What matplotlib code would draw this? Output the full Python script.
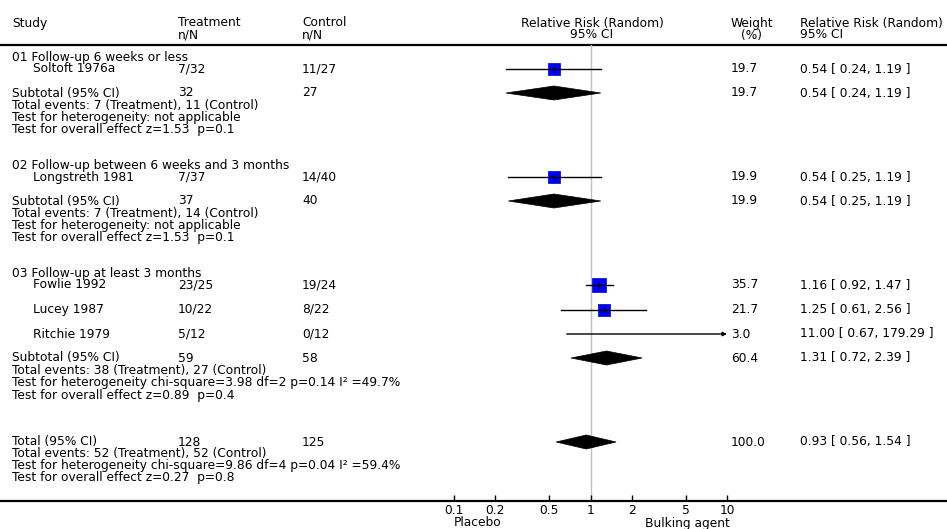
import matplotlib.pyplot as plt

# studies
studies = ["Soltoft 1976a", "Longstreth 1981", "Fowlie 1992", "Lucey 1987", "Ritchie 1979"]
study_group = [0, 1, 2, 2, 2]
treat = ["7/32", "7/37", "23/25", "10/22", "5/12"]
ctrl = ["11/27", "14/40", "19/24", "8/22", "0/12"]
rr = [0.54, 0.54, 1.16, 1.25, 11.00]
rr_lo = [0.24, 0.25, 0.92, 0.61, 0.67]
rr_hi = [1.19, 1.19, 1.47, 2.56, 179.29]
weight = [19.7, 19.9, 35.7, 21.7, 3.0]

# subgroups
groups = ["01 Follow-up 6 weeks or less",
          "02 Follow-up between 6 weeks and 3 months",
          "03 Follow-up at least 3 months"]
sub_n_t = [32, 37, 59]
sub_n_c = [27, 40, 58]
sub_ev_t = [7, 7, 38]
sub_ev_c = [11, 14, 27]
sub_het = ["Test for heterogeneity: not applicable",
           "Test for heterogeneity: not applicable",
           "Test for heterogeneity chi-square=3.98 df=2 p=0.14 I² =49.7%"]
sub_z = ["1.53", "1.53", "0.89"]
sub_p = ["0.1", "0.1", "0.4"]
sub_rr = [0.54, 0.54, 1.31]
sub_lo = [0.24, 0.25, 0.72]
sub_hi = [1.19, 1.19, 2.39]
sub_w = [19.7, 19.9, 60.4]

# overall
tot_n_t, tot_n_c = 128, 125
tot_ev_t, tot_ev_c = 52, 52
tot_het = "Test for heterogeneity chi-square=9.86 df=4 p=0.04 I² =59.4%"
tot_z, tot_p = "0.27", "0.8"
tot_rr, tot_lo, tot_hi, tot_w = 0.93, 0.56, 1.54, 100.0

ticks = [0.1, 0.2, 0.5, 1, 2, 5, 10]
tick_labels = ["0.1", "0.2", "0.5", "1", "2", "5", "10"]

W, H = 947, 529
FS = 8.8
XMAX = 10

fig = plt.figure(figsize=(W / 100, H / 100), dpi=100)
ax = fig.add_axes([0, 0, 1, 1])
ax.set_xlim(0, W)
ax.set_ylim(H, 0)
ax.axis('off')

# forest axes, log scale, y in pixel rows
x0, x1 = 454, 727
y_top, y_bot = 45, 501
fa = fig.add_axes([x0 / W, 1 - y_bot / H, (x1 - x0) / W, (y_bot - y_top) / H])
fa.set_xscale('log')
fa.set_xlim(0.1, XMAX)
fa.set_ylim(y_bot, y_top)
fa.patch.set_alpha(0)
for s in fa.spines.values():
    s.set_visible(False)
fa.set_yticks([])
fa.set_xticks(ticks)
fa.set_xticklabels(tick_labels)
fa.minorticks_off()
fa.tick_params(axis='x', direction='in', length=4, width=1, pad=2, labelsize=FS)
fa.axvline(1, color='#c0c0c0', lw=1, zorder=0)


def txt(x, y, s, **kw):
    ax.text(x, y, s, fontsize=FS, va='center', ha=kw.pop('ha', 'left'), **kw)


def diamond(y, est, lo, hi):
    fa.fill([lo, est, hi, est], [y, y - 7, y, y + 7], color='black', lw=0.5)


def rr_text(est, lo, hi):
    return f"{est:.2f} [ {lo:.2f}, {hi:.2f} ]"


# header
txt(12, 23, "Study")
txt(178, 23, "Treatment")
txt(178, 35, "n/N")
txt(302, 23, "Control")
txt(302, 35, "n/N")
txt(592, 23, "Relative Risk (Random)", ha='center')
txt(592, 35, "95% CI", ha='center')
txt(752, 23, "Weight", ha='center')
txt(752, 35, "(%)", ha='center')
txt(800, 23, "Relative Risk (Random)")
txt(800, 35, "95% CI")
ax.plot([0, W], [45, 45], color='black', lw=1.6)
ax.plot([0, W], [501, 501], color='black', lw=1.6)

y = 57
for g in range(len(groups)):
    txt(12, y, groups[g])
    y += 12
    idx = [i for i in range(len(studies)) if study_group[i] == g]
    for k, i in enumerate(idx):
        txt(33, y, studies[i])
        txt(178, y, treat[i])
        txt(302, y, ctrl[i])
        txt(731, y, f"{weight[i]:.1f}")
        txt(800, y, rr_text(rr[i], rr_lo[i], rr_hi[i]))
        side = 2.48 * weight[i] ** 0.5
        fa.scatter([rr[i]], [y], marker='s', s=(side * 0.72) ** 2,
                   color='#0000ff', edgecolors='#0000c8', linewidths=0.5, zorder=2)
        hi = min(rr_hi[i], XMAX)
        if rr_hi[i] > XMAX:
            fa.annotate('', xy=(hi, y), xytext=(rr_lo[i], y),
                        arrowprops=dict(arrowstyle='-|>', lw=1, color='black',
                                        mutation_scale=6, shrinkA=0, shrinkB=0),
                        annotation_clip=False, zorder=3)
        else:
            fa.plot([rr_lo[i], hi], [y, y], color='black', lw=1, zorder=3)
            fa.plot([rr[i], rr[i]], [y - 2.5, y + 2.5], color='black', lw=0.8, zorder=3)
        y += 24.5 if k < len(idx) - 1 else 24
    txt(12, y, "Subtotal (95% CI)")
    txt(178, y, str(sub_n_t[g]))
    txt(302, y, str(sub_n_c[g]))
    txt(731, y, f"{sub_w[g]:.1f}")
    txt(800, y, rr_text(sub_rr[g], sub_lo[g], sub_hi[g]))
    diamond(y, sub_rr[g], sub_lo[g], sub_hi[g])
    txt(12, y + 12.3, f"Total events: {sub_ev_t[g]} (Treatment), {sub_ev_c[g]} (Control)")
    txt(12, y + 24.6, sub_het[g])
    txt(12, y + 37, f"Test for overall effect z={sub_z[g]}  p={sub_p[g]}")
    y += 37 + 35

y = y - 35 + 47
txt(12, y, "Total (95% CI)")
txt(178, y, str(tot_n_t))
txt(302, y, str(tot_n_c))
txt(731, y, f"{tot_w:.1f}")
txt(800, y, rr_text(tot_rr, tot_lo, tot_hi))
diamond(y, tot_rr, tot_lo, tot_hi)
txt(12, y + 11.7, f"Total events: {tot_ev_t} (Treatment), {tot_ev_c} (Control)")
txt(12, y + 23.4, tot_het)
txt(12, y + 35, f"Test for overall effect z={tot_z}  p={tot_p}")

txt(478, 523, "Placebo", ha='center')
txt(687, 523, "Bulking agent", ha='center')

fig.savefig("out.png", dpi=100)
